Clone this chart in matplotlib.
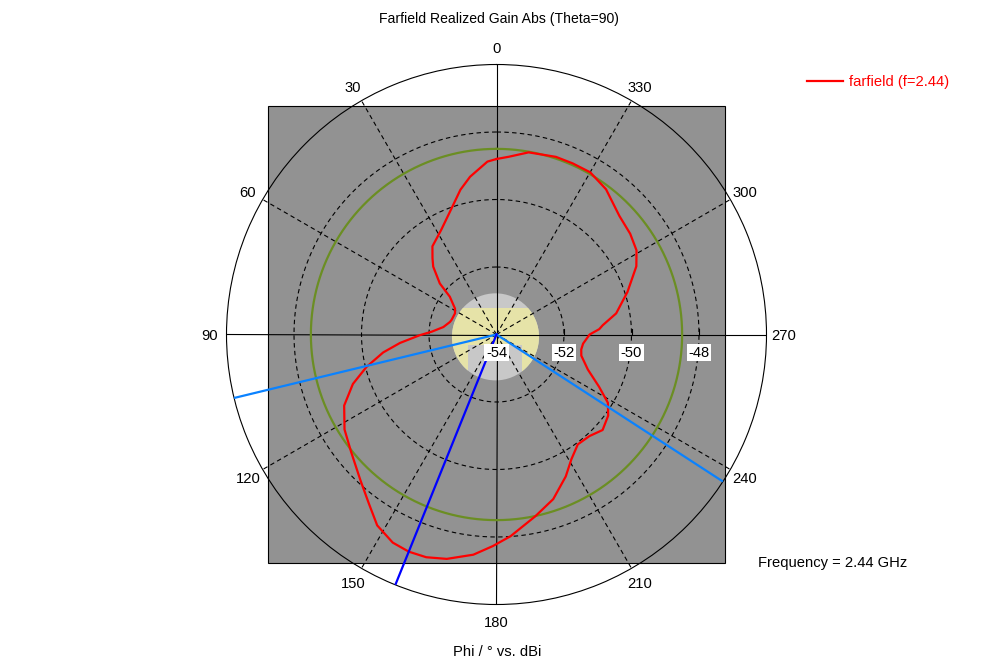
import matplotlib.pyplot as plt
import numpy as np
from matplotlib.patches import Circle, Rectangle

plt.rcParams['font.family'] = ['Liberation Sans', 'DejaVu Sans']
plt.rcParams['font.size'] = 10.6

# farfield cut, Theta=90 (phi in degrees, realized gain in dBi)
phi = [0, 3, 9.5, 14, 19, 28, 36, 40, 43, 48, 51, 58, 63, 72, 75, 82, 87.5,
       90.5, 95, 99, 104, 109, 115, 122, 129, 137, 143, 148, 153.5, 158,
       162.5, 167.5, 174, 179, 184, 192, 199, 206, 211, 216.5, 222.5, 228,
       234, 238.5, 243, 249, 256, 260, 264, 270, 273, 275, 280, 288, 296,
       301, 307, 314, 323, 330, 336, 341.5, 350, 356]
gain = [-48.80, -48.87, -49.26, -49.58, -49.99, -50.50, -50.77, -51.05,
        -51.25, -51.74, -52.22, -52.55, -52.62, -52.60, -52.57, -52.41,
        -52.08, -51.73, -51.13, -50.60, -50.03, -49.50, -49.02, -48.69,
        -48.46, -48.09, -47.72, -47.33, -47.11, -47.06, -47.08, -47.19,
        -47.44, -47.73, -48.01, -48.49, -48.84, -49.32, -49.69, -49.95,
        -49.92, -49.77, -49.91, -50.13, -50.59, -51.10, -51.41, -51.45,
        -51.42, -51.24, -50.95, -50.84, -50.40, -49.92, -49.39, -49.16,
        -49.04, -48.94, -48.61, -48.45, -48.45, -48.45, -48.52, -48.72]

r_min, r_max = -54, -46
r_ticks = [-54, -52, -50, -48]
angle_labels = list(range(0, 360, 30))
level_circle = -48.5          # green reference circle
main_lobe = 158.0             # main lobe direction
beam_edges = [103.6, 237.0]   # 3 dB angular width
freq_label = 'Frequency = 2.44 GHz'
legend_label = 'farfield (f=2.44)'

fig = plt.figure(figsize=(9.93, 6.70), dpi=100)
rect = [226.5 / 993, 65.5 / 670, 540 / 993, 540 / 670]

# background: gray square and antenna thumbnail in the middle
bg = fig.add_axes(rect)
bg.set_xlim(-8, 8)
bg.set_ylim(-8, 8)
bg.axis('off')
half = 6.756
bg.add_patch(Rectangle((-half, -half), 2 * half, 2 * half, fc='#929292',
                       ec='black', lw=0.8, zorder=1))
thumb = Circle((-0.03, -0.07), 1.29, fc='#c8c8c8', ec='none', zorder=2)
bg.add_patch(thumb)
for (x0, y0, w, h) in [(-1.4, -0.31, 2.8, 1.1), (-1.4, -1.2, 0.56, 0.9),
                       (0.756, -1.2, 0.7, 0.9)]:
    p = Rectangle((x0, y0), w, h, fc='#e6e3a8', ec='none', zorder=3)
    bg.add_patch(p)
    p.set_clip_path(thumb)
for v in r_ticks[1:]:
    bg.plot([v - r_min] * 2, [0, 0.15], color='black', lw=0.8, zorder=4)

ax = fig.add_axes(rect, projection='polar')
ax.set_facecolor('none')
ax.set_theta_zero_location('N')
ax.set_theta_direction(1)
ax.set_ylim(r_min, r_max)
ax.set_xticks([])
ax.set_yticks([])
ax.grid(False)
ax.spines['polar'].set_linewidth(0.8)

full = np.linspace(0, 2 * np.pi, 721)
for v in r_ticks[1:]:
    ax.plot(full, np.full_like(full, v), color='black', lw=0.8,
            ls=(0, (4, 3)), zorder=2)
for a in angle_labels:
    t = np.deg2rad(a)
    if a % 90:
        ax.plot([t, t], [r_min, r_max], color='black', lw=0.8,
                ls=(0, (4, 3)), zorder=2)
    else:
        ax.plot([t, t], [r_min, r_max], color='black', lw=0.8, zorder=2)
    ax.text(t, -45.5, str(a), ha='center', va='center_baseline')

ax.plot(full, np.full_like(full, level_circle), color='#6b8e23', lw=1.6,
        zorder=3)
th = np.deg2rad(phi + phi[:1])
line, = ax.plot(th, gain + gain[:1], color='#ff0000', lw=1.6, zorder=4,
                label=legend_label)
for a in beam_edges:
    ax.plot([np.deg2rad(a)] * 2, [r_min, r_max], color='#0a82ff', lw=1.6,
            zorder=5)
ax.plot([np.deg2rad(main_lobe)] * 2, [r_min, r_max], color='#0000ff',
        lw=1.6, zorder=5)

for v in r_ticks:
    ax.annotate(str(v), xy=(np.deg2rad(270), v), xytext=(0, -13),
                textcoords='offset points', ha='center', va='center',
                zorder=6, bbox=dict(boxstyle='square,pad=0.12', fc='white',
                                    ec='none'))

fig.text(498.5 / 993, 1 - 19 / 670, 'Farfield Realized Gain Abs (Theta=90)',
         ha='center', va='center', fontsize=10.1)
fig.text(497.5 / 993, 1 - 652 / 670, 'Phi / \u00b0 vs. dBi',
         ha='center', va='center')
fig.text(758 / 993, 1 - 563 / 670, freq_label, ha='left', va='center')
fig.legend(handles=[line], loc='center left',
           bbox_to_anchor=(807 / 993, 1 - 82 / 670), frameon=False,
           borderpad=0, borderaxespad=0, handlelength=2.45,
           handletextpad=0.4, labelcolor='linecolor')

fig.savefig('out.png', dpi=100)
